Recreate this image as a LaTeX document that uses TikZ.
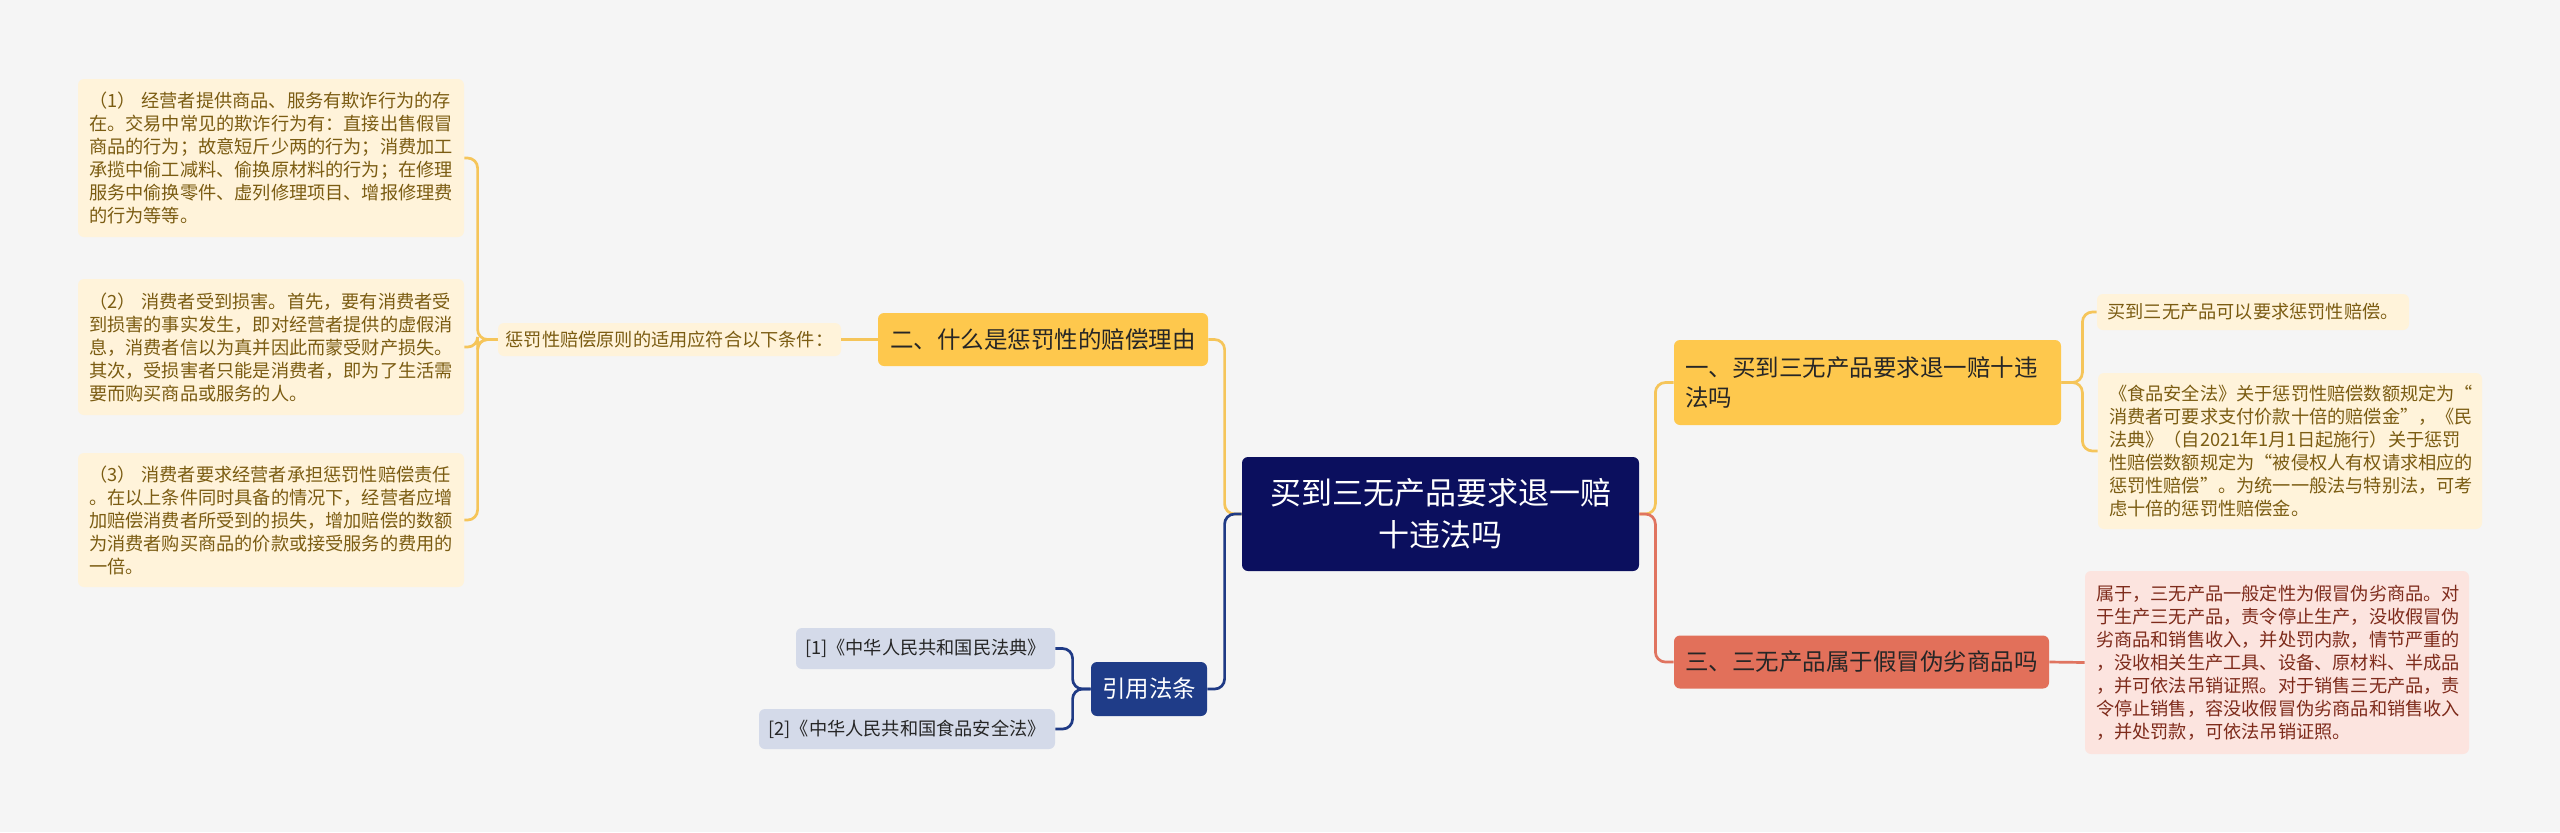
\documentclass[tikz,border=0pt]{standalone}
\usepackage{fontspec}
\setmainfont{Noto Sans CJK SC}
\usepackage{xcolor}
\usepackage{tikz}
\usetikzlibrary{positioning,calc}

\definecolor{bggray}{HTML}{F5F5F5}
\definecolor{rootnavy}{HTML}{0B0F5E}
\definecolor{citenavy}{HTML}{1F3C88}
\definecolor{linenavy}{HTML}{1F3A85}
\definecolor{branchyellow}{HTML}{FEC84D}
\definecolor{lineyellow}{HTML}{F5C55A}
\definecolor{leafyellow}{HTML}{FFF3DA}
\definecolor{leafytext}{HTML}{7B5C12}
\definecolor{branchred}{HTML}{E2705A}
\definecolor{linered}{HTML}{E07460}
\definecolor{leafred}{HTML}{FCE4DF}
\definecolor{leafrtext}{HTML}{7E2B1B}
\definecolor{leafblue}{HTML}{D4DAE9}

\begin{document}
\begin{tikzpicture}[x=0.5pt, y=-0.5pt,
    box/.style={rounded corners=3pt, inner sep=0pt},
    rootbox/.style={box, fill=rootnavy, text=white, align=center,
      font=\fontsize{15.5}{21}\selectfont},
    branchbox/.style={box, fill=branchyellow, text=black!85,
      font=\fontsize{11.75}{15}\selectfont},
    redbranch/.style={branchbox, fill=branchred, text=black!85},
    citebox/.style={box, fill=citenavy, text=white,
      font=\fontsize{11.75}{15}\selectfont},
    leafbox/.style={box, fill=leafyellow, text=leafytext, align=left,
      font=\fontsize{9.1}{11.5}\selectfont},
    redleaf/.style={leafbox, fill=leafred, text=leafrtext},
    blueleaf/.style={leafbox, fill=leafblue, text=black!85},
    link/.style={line width=1.35pt, rounded corners=5pt},
    ylink/.style={link, draw=lineyellow},
    nlink/.style={link, draw=linenavy},
    rlink/.style={link, draw=linered}]

\useasboundingbox (0,0) rectangle (2560,832);
\fill[bggray] (0,0) rectangle (2560,832);

% centre
\node[rootbox, minimum width=198.5pt, minimum height=57pt] (root) at (1440.5,514)
  {买到三无产品要求退一赔\\十违法吗};

% left side
\node[branchbox, minimum width=165pt, minimum height=26.5pt] (why) at (1043,339.5)
  {二、什么是惩罚性的赔偿理由};
\node[leafbox, minimum width=171.5pt, minimum height=16.5pt] (cond) at (669.5,339.5)
  {惩罚性赔偿原则的适用应符合以下条件：};
\node[leafbox, text width=182pt, inner xsep=5.5pt, minimum height=79pt] (l1) at (271,158)
  {（1） 经营者提供商品、服务有欺诈行为的存\\
   在。交易中常见的欺诈行为有：直接出售假冒\\
   商品的行为；故意短斤少两的行为；消费加工\\
   承揽中偷工减料、偷换原材料的行为；在修理\\
   服务中偷换零件、虚列修理项目、增报修理费\\
   的行为等等。};
\node[leafbox, text width=182pt, inner xsep=5.5pt, minimum height=68pt] (l2) at (271,347)
  {（2） 消费者受到损害。首先，要有消费者受\\
   到损害的事实发生，即对经营者提供的虚假消\\
   息，消费者信以为真并因此而蒙受财产损失。\\
   其次，受损害者只能是消费者，即为了生活需\\
   要而购买商品或服务的人。};
\node[leafbox, text width=182pt, inner xsep=5.5pt, minimum height=67pt] (l3) at (271,520)
  {（3） 消费者要求经营者承担惩罚性赔偿责任\\
   。在以上条件同时具备的情况下，经营者应增\\
   加赔偿消费者所受到的损失，增加赔偿的数额\\
   为消费者购买商品的价款或接受服务的费用的\\
   一倍。};

\node[citebox, minimum width=58pt, minimum height=27pt] (cite) at (1149,689) {引用法条};
\node[blueleaf, minimum width=129.5pt, minimum height=20.5pt] (r1) at (925.5,648.5)
  {[1]《中华人民共和国民法典》};
\node[blueleaf, minimum width=148pt, minimum height=20pt] (r2) at (907,729)
  {[2]《中华人民共和国食品安全法》};

% right side
\node[branchbox, align=left, text width=182.5pt, inner xsep=5.5pt, minimum height=42.5pt] (ask) at (1867.5,382.5)
  {一、买到三无产品要求退一赔十违\\法吗};
\node[leafbox, minimum width=156pt, minimum height=18pt] (la) at (2253,312)
  {买到三无产品可以要求惩罚性赔偿。};
\node[leafbox, text width=181pt, inner xsep=5.5pt, minimum height=78pt] (lb) at (2290,451)
  {《食品安全法》关于惩罚性赔偿数额规定为“\\
   消费者可要求支付价款十倍的赔偿金”，《民\\
   法典》（自2021年1月1日起施行）关于惩罚\\
   性赔偿数额规定为“被侵权人有权请求相应的\\
   惩罚性赔偿”。为统一一般法与特别法，可考\\
   虑十倍的惩罚性赔偿金。};

\node[redbranch, minimum width=187.5pt, minimum height=26.5pt] (fake) at (1861.5,662)
  {三、三无产品属于假冒伪劣商品吗};
\node[redleaf, text width=181pt, inner xsep=5.5pt, minimum height=91.5pt] (lc) at (2277,662.5)
  {属于，三无产品一般定性为假冒伪劣商品。对\\
   于生产三无产品，责令停止生产，没收假冒伪\\
   劣商品和销售收入，并处罚内款，情节严重的\\
   ，没收相关生产工具、设备、原材料、半成品\\
   ，并可依法吊销证照。对于销售三无产品，责\\
   令停止销售，容没收假冒伪劣商品和销售收入\\
   ，并处罚款，可依法吊销证照。};

% connectors
\draw[ylink] (root.west) -- ++(-17,0) |- (why.east);
\draw[nlink] (root.west) -- ++(-17,0) |- (cite.east);
\draw[ylink] (root.east) -- ++(16,0) |- (ask.west);
\draw[rlink] (root.east) -- ++(16,0) |- (fake.west);
\draw[ylink] (why.west) -- (cond.east);
\foreach \n in {l1,l2,l3}
  \draw[ylink] (cond.west) -- ++(-20,0) |- (\n.east);
\foreach \n in {r1,r2}
  \draw[nlink] (cite.west) -- ++(-18,0) |- (\n.east);
\foreach \n in {la,lb}
  \draw[ylink] (ask.east) -- ++(21,0) |- (\n.west);
\draw[rlink] (fake.east) -- (lc.west);
\end{tikzpicture}
\end{document}
